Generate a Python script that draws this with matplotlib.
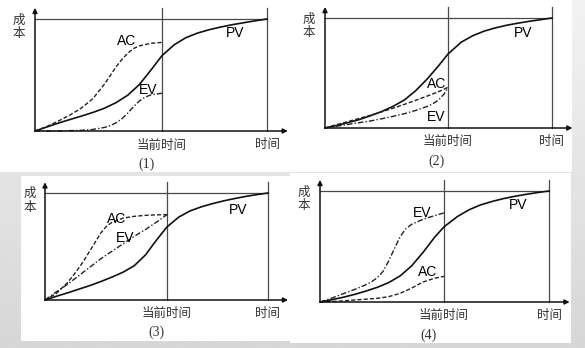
import matplotlib.pyplot as plt
import numpy as np
from matplotlib.patches import Rectangle

plt.rcParams['font.family'] = ['Noto Sans CJK SC', 'DejaVu Sans']

W, H = 585, 348

# current time (fraction of total duration) for each case
now_pos = [0.547, 0.542, 0.547, 0.541]

# case (1): AC above PV, EV below PV
pv1_x = [0, 0.05, 0.10, 0.15, 0.20, 0.25, 0.30, 0.35, 0.40, 0.45, 0.50, 0.547, 0.60, 0.65, 0.70, 0.75, 0.80, 0.85, 0.90, 0.95, 1.0]
pv1_y = [0, 0.035, 0.070, 0.102, 0.133, 0.166, 0.204, 0.254, 0.320, 0.415, 0.545, 0.672, 0.770, 0.833, 0.874, 0.904, 0.928, 0.949, 0.967, 0.984, 1.0]
ac1_x = [0, 0.05, 0.10, 0.15, 0.20, 0.25, 0.30, 0.35, 0.375, 0.40, 0.425, 0.45, 0.50, 0.547]
ac1_y = [0, 0.040, 0.088, 0.142, 0.205, 0.290, 0.420, 0.575, 0.640, 0.695, 0.737, 0.760, 0.783, 0.791]
ev1_x = [0, 0.10, 0.20, 0.25, 0.30, 0.325, 0.35, 0.375, 0.40, 0.425, 0.45, 0.475, 0.50, 0.547]
ev1_y = [0, 0.001, 0.006, 0.014, 0.032, 0.048, 0.074, 0.110, 0.160, 0.218, 0.268, 0.303, 0.323, 0.337]

# case (2): AC = EV, both below PV
pv2_x = [0, 0.05, 0.10, 0.15, 0.20, 0.25, 0.30, 0.35, 0.40, 0.45, 0.50, 0.542, 0.60, 0.65, 0.70, 0.75, 0.80, 0.85, 0.90, 0.95, 1.0]
pv2_y = [0, 0.022, 0.048, 0.076, 0.111, 0.150, 0.197, 0.255, 0.340, 0.445, 0.565, 0.673, 0.780, 0.838, 0.880, 0.910, 0.934, 0.953, 0.970, 0.985, 1.0]
ac2_x = [0, 0.05, 0.10, 0.15, 0.20, 0.25, 0.30, 0.35, 0.40, 0.45, 0.50, 0.542]
ac2_y = [0, 0.030, 0.058, 0.087, 0.116, 0.147, 0.180, 0.215, 0.252, 0.290, 0.330, 0.370]
ev2_x = [0, 0.05, 0.10, 0.15, 0.20, 0.25, 0.30, 0.35, 0.40, 0.45, 0.475, 0.50, 0.525, 0.542]
ev2_y = [0, 0.016, 0.032, 0.048, 0.064, 0.084, 0.106, 0.130, 0.160, 0.196, 0.220, 0.254, 0.310, 0.370]

# case (3): AC = EV, both above PV
pv3_x = [0, 0.05, 0.10, 0.15, 0.20, 0.25, 0.30, 0.35, 0.40, 0.45, 0.50, 0.547, 0.60, 0.65, 0.70, 0.75, 0.80, 0.85, 0.90, 0.95, 1.0]
pv3_y = [0, 0.034, 0.066, 0.100, 0.134, 0.172, 0.214, 0.260, 0.320, 0.420, 0.560, 0.683, 0.775, 0.832, 0.870, 0.900, 0.926, 0.948, 0.968, 0.985, 1.0]
ac3_x = [0, 0.05, 0.10, 0.125, 0.15, 0.175, 0.20, 0.225, 0.25, 0.275, 0.30, 0.35, 0.40, 0.45, 0.50, 0.547]
ac3_y = [0, 0.060, 0.160, 0.225, 0.295, 0.370, 0.455, 0.540, 0.625, 0.688, 0.725, 0.765, 0.782, 0.791, 0.796, 0.798]
ev3_x = [0, 0.05, 0.10, 0.15, 0.20, 0.25, 0.30, 0.35, 0.40, 0.45, 0.50, 0.547]
ev3_y = [0, 0.075, 0.145, 0.225, 0.305, 0.385, 0.455, 0.525, 0.595, 0.658, 0.728, 0.798]

# case (4): EV above PV, AC below PV
pv4_x = [0, 0.05, 0.10, 0.15, 0.20, 0.25, 0.30, 0.35, 0.40, 0.45, 0.50, 0.541, 0.60, 0.65, 0.70, 0.75, 0.80, 0.85, 0.90, 0.95, 1.0]
pv4_y = [0, 0.020, 0.042, 0.068, 0.098, 0.132, 0.175, 0.235, 0.325, 0.447, 0.582, 0.676, 0.770, 0.830, 0.874, 0.905, 0.931, 0.952, 0.970, 0.986, 1.0]
ac4_x = [0, 0.05, 0.10, 0.15, 0.20, 0.25, 0.30, 0.35, 0.40, 0.45, 0.50, 0.541]
ac4_y = [0, 0.004, 0.010, 0.018, 0.025, 0.033, 0.048, 0.078, 0.125, 0.180, 0.214, 0.231]
ev4_x = [0, 0.05, 0.10, 0.15, 0.20, 0.225, 0.25, 0.275, 0.30, 0.325, 0.35, 0.375, 0.40, 0.45, 0.50, 0.541]
ev4_y = [0, 0.034, 0.074, 0.112, 0.155, 0.182, 0.218, 0.275, 0.370, 0.480, 0.590, 0.660, 0.700, 0.745, 0.778, 0.802]

tags = ['(1)', '(2)', '(3)', '(4)']

fig = plt.figure(figsize=(W / 100, H / 100), dpi=100)

# slide-like grey gradient behind the white panels
bg = fig.add_axes([0, 0, 1, 1])
grad = np.linspace(0.95, 0.84, 256).reshape(-1, 1)
bg.imshow(grad, cmap='gray', vmin=0, vmax=1, aspect='auto', extent=[0, W, H, 0])
bg.set_xlim(0, W)
bg.set_ylim(H, 0)
bg.axis('off')
for (x0, y0, x1, y1) in [(0, 0, 572, 172), (21, 176, 290, 341), (290, 173, 571, 343)]:
    bg.add_patch(Rectangle((x0, y0), x1 - x0, y1 - y0, facecolor='white', edgecolor='none'))


def panel(box, now, pv, ac, ev, lab_ac, lab_ev, lab_pv, tag, tag_x):
    ox, oy, ux, uy = box
    ax = fig.add_axes([ox / W, (H - oy) / H, ux / W, uy / H])
    ax.set_xlim(0, 1)
    ax.set_ylim(0, 1)
    ax.axis('off')
    # axes with arrow heads
    arrow = dict(arrowstyle='-|>', mutation_scale=7, lw=1.1, color='#111111', shrinkA=0, shrinkB=0)
    ax.annotate('', xy=(1.09, 0), xytext=(0, 0), arrowprops=arrow, annotation_clip=False)
    ax.annotate('', xy=(0, 1.1), xytext=(0, 0), arrowprops=arrow, annotation_clip=False)
    # budget line, current time and completion time
    ax.plot([0, 1], [1, 1], color='#4a4a4a', lw=0.9, clip_on=False)
    ax.plot([now, now], [0, 1.1], color='#4a4a4a', lw=0.9, clip_on=False)
    ax.plot([1, 1], [0, 1.1], color='#4a4a4a', lw=0.9, clip_on=False)
    # curves
    ax.plot(pv[0], pv[1], color='#111111', lw=1.2, clip_on=False, solid_joinstyle='round')
    ax.plot(ac[0], ac[1], color='#222222', lw=1.0, ls=(0, (3, 1.5)), clip_on=False)
    ax.plot(ev[0], ev[1], color='#222222', lw=1.0, ls=(0, (4, 1.5, 1, 1.5)), clip_on=False)
    lf = dict(family=['Liberation Sans', 'DejaVu Sans'], fontsize=10, ha='center', va='center')
    ax.text(*lab_ac, 'AC', **lf)
    ax.text(*lab_ev, 'EV', **lf)
    ax.text(*lab_pv, 'PV', **lf)
    cf = dict(fontsize=9, ha='center', va='center', color='#333333', fontweight='light')
    ax.text(-0.07, 0.93, '成\n本', linespacing=1.05, **cf)
    ax.text(now, -0.125, '当前时间', **cf)
    ax.text(1.0, -0.125, '时间', **cf)
    ax.text(tag_x, -0.30, tag, family=['Liberation Serif', 'DejaVu Serif'],
            fontsize=10, ha='center', va='center', color='#333333')


panel((35, 131, 232, 112), now_pos[0], (pv1_x, pv1_y), (ac1_x, ac1_y), (ev1_x, ev1_y),
      (0.396, 0.80), (0.489, 0.367), (0.863, 0.875), tags[0], 0.482)
panel((325, 128, 227, 110), now_pos[1], (pv2_x, pv2_y), (ac2_x, ac2_y), (ev2_x, ev2_y),
      (0.491, 0.403), (0.491, 0.10), (0.872, 0.864), tags[1], 0.491)
panel((45, 300, 223, 107), now_pos[2], (pv3_x, pv3_y), (ac3_x, ac3_y), (ev3_x, ev3_y),
      (0.321, 0.761), (0.358, 0.575), (0.866, 0.839), tags[2], 0.50)
panel((320, 302, 229, 111), now_pos[3], (pv4_x, pv4_y), (ac4_x, ac4_y), (ev4_x, ev4_y),
      (0.472, 0.270), (0.448, 0.802), (0.865, 0.871), tags[3], 0.472)

fig.savefig('out.png', dpi=100)
